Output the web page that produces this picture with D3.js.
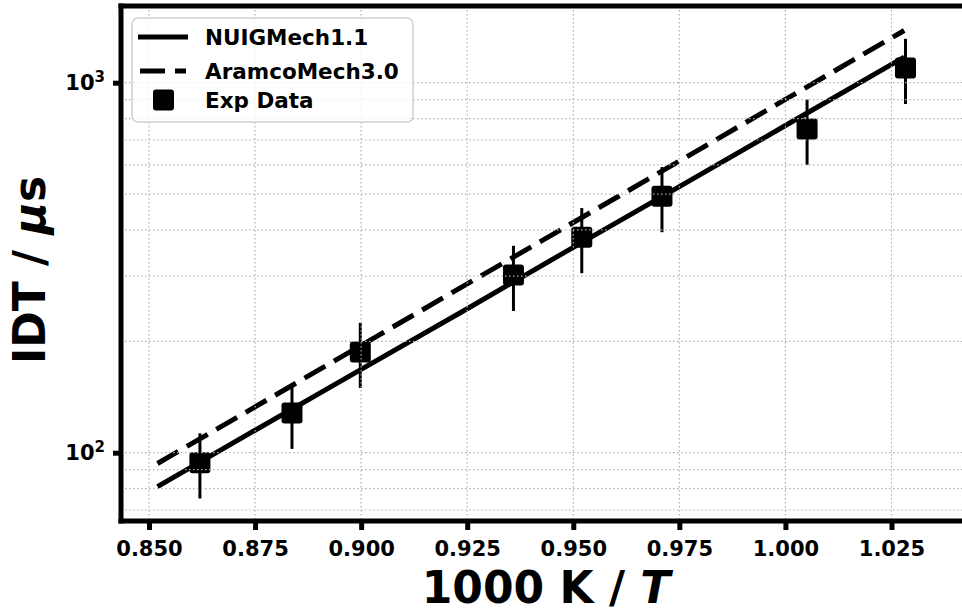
<!DOCTYPE html>
<html>
<head>
<meta charset="utf-8">
<script src="https://cdn.jsdelivr.net/npm/d3@7"></script>
<style>
  html, body { margin: 0; padding: 0; background: #fff; }
  svg { display: block; font-family: "DejaVu Sans", sans-serif; }
</style>
</head>
<body>
<svg id="chart" width="962" height="612"></svg>
<script>
// ---- data ----
const xTicks = [0.850, 0.875, 0.900, 0.925, 0.950, 0.975, 1.000, 1.025];
const xTickLabels = ["0.850", "0.875", "0.900", "0.925", "0.950", "0.975", "1.000", "1.025"];
const yMajorTicks = [100, 1000];
const yMajorExp = ["2", "3"];
const yMinorTicks = [70, 80, 90, 200, 300, 400, 500, 600, 700, 800, 900];

const nuigX = [0.852, 0.875, 0.900, 0.925, 0.950, 0.975, 1.000, 1.028];
const nuigY = [81, 115, 168, 245, 359, 524, 766, 1172];

const aramcoX = [0.852, 0.875, 0.900, 0.925, 0.950, 0.975, 1.000, 1.028];
const aramcoY = [93.5, 133, 195, 286, 419, 614, 901, 1384];

const expX = [0.862, 0.8837, 0.8998, 0.9359, 0.9520, 0.9709, 1.0051, 1.0283];
const expY = [94, 128, 187, 302, 382, 493, 750, 1095];
const expErrFrac = [0.2, 0.2, 0.2, 0.2, 0.2, 0.2, 0.2, 0.2];

const legendLabels = ["NUIGMech1.1", "AramcoMech3.0", "Exp Data"];

// ---- layout ----
const plotLeft = 121, plotTop = 6, plotBottom = 521, plotRight = 975;
const svg = d3.select("#chart");
svg.append("rect").attr("width", 962).attr("height", 612).attr("fill", "#fff");

const x = d3.scaleLinear().domain([0.850, 1.025]).range([149, 891.5]);
const y = d3.scaleLog().domain([100, 1000]).range([452.7, 82.7]);

svg.append("defs").append("clipPath").attr("id", "clip")
  .append("rect").attr("x", plotLeft).attr("y", plotTop)
  .attr("width", plotRight - plotLeft).attr("height", plotBottom - plotTop);

const plot = svg.append("g").attr("clip-path", "url(#clip)");

// ---- data marks ----
const line = d3.line().x(d => x(d[0])).y(d => y(d[1]));
plot.append("path").datum(d3.zip(nuigX, nuigY))
  .attr("d", line).attr("fill", "none").attr("stroke", "#000").attr("stroke-width", 5);
plot.append("path").datum(d3.zip(aramcoX, aramcoY))
  .attr("d", line).attr("fill", "none").attr("stroke", "#000").attr("stroke-width", 5)
  .attr("stroke-dasharray", "24,10");

const exp = d3.range(expX.length).map(i => ({x: expX[i], y: expY[i], e: expErrFrac[i]}));
plot.selectAll("line.err").data(exp).join("line").attr("class", "err")
  .attr("x1", d => x(d.x)).attr("x2", d => x(d.x))
  .attr("y1", d => y(d.y * (1 + d.e))).attr("y2", d => y(d.y * (1 - d.e)))
  .attr("stroke", "#000").attr("stroke-width", 3);
const ms = 21;
plot.selectAll("rect.mk").data(exp).join("rect").attr("class", "mk")
  .attr("x", d => x(d.x) - ms / 2).attr("y", d => y(d.y) - ms / 2)
  .attr("width", ms).attr("height", ms).attr("rx", 3).attr("fill", "#000");

// ---- grid (on top) ----
const grid = svg.append("g").attr("clip-path", "url(#clip)")
  .attr("stroke", "#b0b0b0").attr("stroke-width", 1.2).attr("stroke-dasharray", "1.5,2.5");
grid.selectAll("line.gx").data(xTicks).join("line").attr("class", "gx")
  .attr("x1", d => x(d)).attr("x2", d => x(d)).attr("y1", plotTop).attr("y2", plotBottom);
grid.selectAll("line.gy").data(yMajorTicks.concat(yMinorTicks)).join("line").attr("class", "gy")
  .attr("y1", d => y(d)).attr("y2", d => y(d)).attr("x1", plotLeft).attr("x2", plotRight);

// ---- spines ----
const sp = svg.append("g").attr("stroke", "#000").attr("stroke-width", 5).attr("stroke-linecap", "square");
sp.append("line").attr("x1", plotLeft).attr("x2", plotLeft).attr("y1", plotTop).attr("y2", plotBottom);
sp.append("line").attr("x1", plotLeft).attr("x2", plotRight).attr("y1", plotBottom).attr("y2", plotBottom);
sp.append("line").attr("x1", plotLeft).attr("x2", plotRight).attr("y1", plotTop).attr("y2", plotTop);

// ---- x axis ----
const xAxis = d3.axisBottom(x).tickValues(xTicks).tickFormat((d, i) => xTickLabels[i])
  .tickSize(9).tickPadding(11);
const gx = svg.append("g").attr("transform", `translate(0,${plotBottom})`).call(xAxis);
gx.select(".domain").remove();
gx.selectAll(".tick line").attr("stroke", "#000").attr("stroke-width", 5);
gx.selectAll(".tick text").attr("font-family", "DejaVu Sans").attr("font-weight", "bold")
  .attr("font-size", 21).attr("fill", "#000");

// ---- y axis ----
const yAxis = d3.axisLeft(y).tickValues(yMajorTicks).tickFormat(() => "").tickSize(8);
const gy = svg.append("g").attr("transform", `translate(${plotLeft},0)`).call(yAxis);
gy.select(".domain").remove();
gy.selectAll(".tick line").attr("stroke", "#000").attr("stroke-width", 5);
gy.selectAll(".tick").each(function (d, i) {
  const t = d3.select(this).append("text").attr("x", -16).attr("dy", "0.33em")
    .attr("text-anchor", "end").attr("font-family", "DejaVu Sans").attr("font-weight", "bold")
    .attr("font-size", 21).attr("fill", "#000");
  t.append("tspan").text("10");
  t.append("tspan").attr("font-size", 15).attr("dy", "-0.55em").text(yMajorExp[i]);
});

// ---- axis labels ----
const xl = svg.append("text").attr("x", 546).attr("y", 603).attr("text-anchor", "middle")
  .attr("font-family", "DejaVu Sans").attr("font-weight", "bold").attr("font-size", 44).attr("fill", "#000");
xl.append("tspan").text("1000 K / ");
xl.append("tspan").attr("font-style", "italic").text("T");

const yl = svg.append("text").attr("transform", "translate(45,270) rotate(-90)").attr("text-anchor", "middle")
  .attr("font-family", "DejaVu Sans").attr("font-weight", "bold").attr("font-size", 44).attr("fill", "#000");
yl.append("tspan").text("IDT / ");
yl.append("tspan").attr("font-style", "italic").text("μ");
yl.append("tspan").text("s");

// ---- legend ----
const lg = svg.append("g");
lg.append("rect").attr("x", 132).attr("y", 18).attr("width", 281).attr("height", 104).attr("rx", 6)
  .attr("fill", "#fff").attr("fill-opacity", 0.8).attr("stroke", "#d0d0d0").attr("stroke-width", 1.5);
const rows = [37, 71, 100];
lg.append("line").attr("x1", 138).attr("x2", 188).attr("y1", rows[0]).attr("y2", rows[0])
  .attr("stroke", "#000").attr("stroke-width", 5);
lg.append("line").attr("x1", 140).attr("x2", 186).attr("y1", rows[1]).attr("y2", rows[1])
  .attr("stroke", "#000").attr("stroke-width", 5).attr("stroke-dasharray", "25,10");
lg.append("rect").attr("x", 163.5 - ms / 2).attr("y", rows[2] - ms / 2).attr("width", ms).attr("height", ms)
  .attr("rx", 3).attr("fill", "#000");
lg.selectAll("text.lt").data(legendLabels).join("text").attr("class", "lt")
  .attr("x", 205).attr("y", (d, i) => rows[i]).attr("dy", "0.36em")
  .attr("font-family", "DejaVu Sans").attr("font-weight", "bold").attr("font-size", 21.5).attr("fill", "#000")
  .text(d => d);
</script>
</body>
</html>
